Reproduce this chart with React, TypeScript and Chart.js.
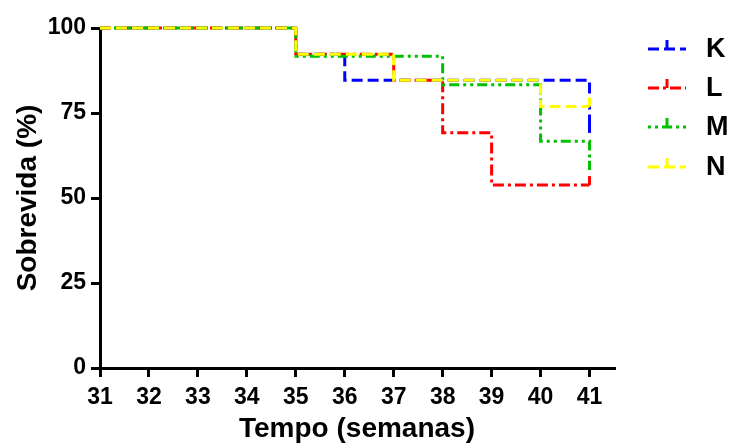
import React, { useEffect, useRef } from "react";
import { Chart, registerables } from "chart.js";

Chart.register(...registerables);

// Kaplan-Meier style survival data (time in weeks, survival in %)
const SERIES_NAMES = ["K", "L", "M", "N"];
const TIMES_K = [31, 35, 36, 41];
const SURV_K = [100, 92.3, 84.6, 69.2];
const TIMES_L = [31, 35, 37, 38, 39, 41];
const SURV_L = [100, 92.3, 84.6, 69.2, 53.8, 53.8];
const TIMES_M = [31, 35, 38, 40, 41];
const SURV_M = [100, 91.7, 83.3, 66.7, 58.3];
const TIMES_N = [31, 35, 37, 40, 41];
const SURV_N = [100, 92.3, 84.6, 76.9, 76.9];
// censored observation times (tick marks)
const CENSOR_K = [41];
const CENSOR_L = [41];
const CENSOR_M = [41];
const CENSOR_N = [41];

const X_TICKS = [31, 32, 33, 34, 35, 36, 37, 38, 39, 40, 41];
const Y_TICKS = [0, 25, 50, 75, 100];
const X_TITLE = "Tempo (semanas)";
const Y_TITLE = "Sobrevida (%)";

const COLORS = ["#0000ff", "#ff0000", "#00c000", "#ffff00"];
const DASHES = [
  [11, 5],
  [11, 4, 3, 4],
  [3, 4, 3, 4, 10, 4],
  [11, 5],
];
const FONT = '"Liberation Sans", Arial, Helvetica, sans-serif';

function toPoints(t: number[], s: number[]) {
  return t.map((x, i) => ({ x, y: s[i] }));
}

function survAt(t: number[], s: number[], x: number) {
  let v = s[0];
  for (let i = 0; i < t.length; i++) if (t[i] <= x) v = s[i];
  return v;
}

export default function App() {
  const ref = useRef<HTMLCanvasElement | null>(null);

  useEffect(() => {
    if (!ref.current) return;
    const times = [TIMES_K, TIMES_L, TIMES_M, TIMES_N];
    const survs = [SURV_K, SURV_L, SURV_M, SURV_N];
    const censors = [CENSOR_K, CENSOR_L, CENSOR_M, CENSOR_N];

    const censorPlugin = {
      id: "censor",
      afterDatasetsDraw(chart: any) {
        const ctx = chart.ctx;
        const xs = chart.scales.x;
        const ys = chart.scales.y;
        ctx.save();
        for (let d = 0; d < 4; d++) {
          ctx.strokeStyle = COLORS[d];
          ctx.lineWidth = 3;
          ctx.setLineDash([]);
          for (const c of censors[d]) {
            const px = xs.getPixelForValue(c);
            const py = ys.getPixelForValue(survAt(times[d], survs[d], c));
            ctx.beginPath();
            ctx.moveTo(px, py);
            ctx.lineTo(px, py - 9);
            ctx.stroke();
          }
        }
        ctx.restore();
      },
    };

    const legendPlugin = {
      id: "customLegend",
      afterDraw(chart: any) {
        const ctx = chart.ctx;
        ctx.save();
        const ys = [49, 88, 127, 167];
        for (let d = 0; d < 4; d++) {
          const y = ys[d];
          ctx.strokeStyle = COLORS[d];
          ctx.lineWidth = 3;
          ctx.setLineDash(DASHES[d]);
          ctx.beginPath();
          ctx.moveTo(648, y);
          ctx.lineTo(686, y);
          ctx.stroke();
          ctx.setLineDash([]);
          ctx.beginPath();
          ctx.moveTo(667, y);
          ctx.lineTo(667, y - 9);
          ctx.stroke();
          ctx.fillStyle = "#000";
          ctx.font = `bold 27px ${FONT}`;
          ctx.textAlign = "left";
          ctx.textBaseline = "middle";
          ctx.fillText(SERIES_NAMES[d], 706, y + 1);
        }
        ctx.restore();
      },
    };

    const chart = new Chart(ref.current, {
      type: "line",
      data: {
        datasets: SERIES_NAMES.map((name, d) => ({
          label: name,
          data: toPoints(times[d], survs[d]),
          borderColor: COLORS[d],
          backgroundColor: COLORS[d],
          borderWidth: 3,
          borderDash: DASHES[d],
          stepped: "before" as const,
          pointRadius: 0,
          fill: false,
          clip: false as any,
          order: 4 - d,
        })),
      },
      options: {
        animation: false,
        responsive: true,
        maintainAspectRatio: false,
        layout: { padding: { left: 0, right: 115, top: 28, bottom: 0 } },
        plugins: { legend: { display: false }, tooltip: { enabled: false } },
        scales: {
          x: {
            type: "linear",
            min: 31,
            max: 41.5,
            afterBuildTicks: (scale: any) => {
              scale.ticks = X_TICKS.map((v) => ({ value: v }));
            },
            afterFit: (scale: any) => {
              scale.height = 75;
            },
            border: { display: true, color: "#000", width: 3 },
            grid: {
              display: true,
              drawOnChartArea: false,
              drawTicks: true,
              tickLength: 9,
              color: "#000",
              lineWidth: 3,
            },
            ticks: {
              color: "#000",
              font: { family: FONT, size: 23, weight: "bold" },
              padding: 7,
              maxRotation: 0,
              autoSkip: false,
            },
            title: {
              display: true,
              text: X_TITLE,
              color: "#000",
              font: { family: FONT, size: 28, weight: "bold" },
              padding: { top: 0, bottom: -3 },
            },
          },
          y: {
            min: 0,
            max: 100,
            afterBuildTicks: (scale: any) => {
              scale.ticks = Y_TICKS.map((v) => ({ value: v }));
            },
            afterFit: (scale: any) => {
              scale.width = 100;
            },
            border: { display: true, color: "#000", width: 3 },
            grid: {
              display: true,
              drawOnChartArea: false,
              drawTicks: true,
              tickLength: 9,
              color: "#000",
              lineWidth: 3,
            },
            ticks: {
              color: "#000",
              font: { family: FONT, size: 23, weight: "bold" },
              padding: 5,
            },
            title: {
              display: true,
              text: Y_TITLE,
              color: "#000",
              font: { family: FONT, size: 28, weight: "bold" },
              padding: { top: 11, bottom: 0 },
            },
          },
        },
      },
      plugins: [censorPlugin, legendPlugin],
    } as any);
    return () => chart.destroy();
  }, []);

  return (
    <div
      style={{
        position: "absolute",
        left: 0,
        top: 0,
        width: 729,
        height: 443,
        background: "#fff",
      }}
    >
      <canvas ref={ref} />
    </div>
  );
}
